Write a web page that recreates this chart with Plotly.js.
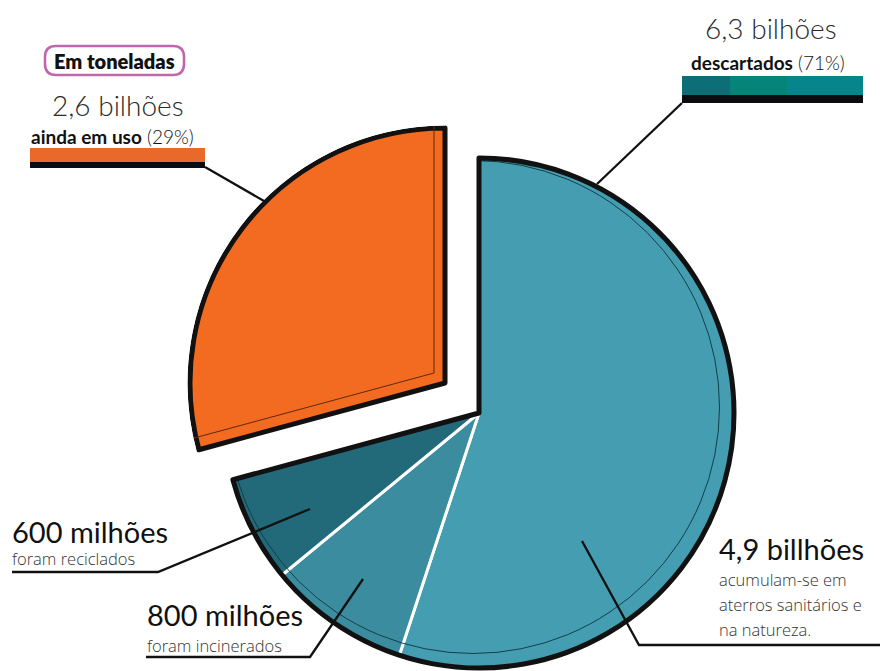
<!DOCTYPE html>
<html><head><meta charset="utf-8">
<script src="https://cdn.plot.ly/plotly-3.0.1.min.js"></script>
<style>html,body{margin:0;padding:0;background:#fff;overflow:hidden}#chart{width:880px;height:671px}</style>
</head><body><div id="chart"></div>
<script>
// ---- data (clockwise from 12 o'clock) ----
const categories = ['Acumulados', 'Incinerados', 'Reciclados', 'Ainda em uso'];
const valuesBillions = [4.9, 0.8, 0.6, 2.6];
const groupLabels = ['Descartados', 'Ainda em uso'];
const groupValues = [6.3, 2.6];
const valueLabels = ['2,6 bilhões', '600 milhões', '800 milhões', '4,9 billhões', '6,3 bilhões'];
const shareLabels = ['(29%)', '(71%)'];
const descLabels = ['ainda em uso', 'foram reciclados', 'foram incinerados', 'acumulam-se em', 'aterros sanitários e', 'na natureza.', 'descartados'];
const unitLabel = 'Em toneladas';

// ---- styling ----
const sliceColors = ['#459DB1', '#3B8C9E', '#22697A', '#F36B21'];
const discardBarColors = ['#0E6E78', '#05857A', '#07858D'];
const TR = 'rgba(0,0,0,0)';
const INK = '#111111';
const W = 880, H = 671;
const fx = x => x / W, fy = y => 1 - y / H;
const dom = (cx, cy, r) => ({x: [fx(cx - r), fx(cx + r)], y: [fy(cy + r), fy(cy - r)]});
const FONT = 'Lato, "Open Sans", sans-serif';
const SUBFONT = '"Open Sans", Lato, sans-serif';

const common = {type: 'pie', sort: false, direction: 'clockwise', rotation: 0,
  textinfo: 'none', hoverinfo: 'none', showlegend: false};

const T = {cx: 479, cy: 413, r: 255};
const O = {cx: 445, cy: 383, r: 255};

const traces = [
  // discarded slices with white separators
  Object.assign({}, common, {labels: categories, values: valuesBillions, domain: dom(T.cx, T.cy, T.r),
    marker: {colors: [sliceColors[0], sliceColors[1], sliceColors[2], TR], line: {color: '#ffffff', width: [3, 3, 3, 0]}}}),
  // rim line of the disc top
  Object.assign({}, common, {labels: [groupLabels[0]], values: [groupValues[0]], domain: dom(T.cx - 6, T.cy - 6, T.r - 8.5),
    marker: {colors: [TR], line: {color: '#123f4a', width: 1}}}),
  // clear the slot left by the pulled slice
  Object.assign({}, common, {labels: groupLabels, values: groupValues, domain: dom(T.cx, T.cy, T.r + 1),
    marker: {colors: [TR, '#ffffff'], line: {width: [0, 0]}}}),
  // thick outline of the discarded group
  Object.assign({}, common, {labels: groupLabels, values: groupValues, domain: dom(T.cx, T.cy, T.r),
    marker: {colors: [TR, TR], line: {color: INK, width: [5, 0]}}}),
  // pulled slice: still in use
  Object.assign({}, common, {labels: groupLabels, values: groupValues, domain: dom(O.cx, O.cy, O.r),
    marker: {colors: [TR, sliceColors[3]], line: {color: INK, width: [0, 5]}}}),
  // inner line of the pulled slice
  Object.assign({}, common, {labels: groupLabels, values: groupValues, domain: dom(O.cx - 11, O.cy - 10, O.r),
    marker: {colors: [TR, TR], line: {color: '#5e2a0c', width: [0, 1]}}}),
  // mask outside the pulled slice
  Object.assign({}, common, {labels: groupLabels, values: groupValues, domain: dom(O.cx, O.cy, 285), hole: 257.5 / 285,
    marker: {colors: [TR, '#ffffff'], line: {width: [0, 0]}}})
];

function P(pts) {
  return pts.map((p, i) => (i ? 'L' : 'M') + fx(p[0]) + ',' + fy(p[1])).join(' ');
}
function roundRect(x0, y0, x1, y1, r) {
  const q = (a, b) => fx(a) + ',' + fy(b);
  return 'M' + q(x0 + r, y0) + ' L' + q(x1 - r, y0) + ' Q' + q(x1, y0) + ' ' + q(x1, y0 + r) +
    ' L' + q(x1, y1 - r) + ' Q' + q(x1, y1) + ' ' + q(x1 - r, y1) +
    ' L' + q(x0 + r, y1) + ' Q' + q(x0, y1) + ' ' + q(x0, y1 - r) +
    ' L' + q(x0, y0 + r) + ' Q' + q(x0, y0) + ' ' + q(x0 + r, y0) + ' Z';
}
const rect = (x0, y0, x1, y1, color) => ({type: 'rect', xref: 'paper', yref: 'paper',
  x0: fx(x0), x1: fx(x1), y0: fy(y1), y1: fy(y0), fillcolor: color, line: {width: 0}, layer: 'above'});
const leader = pts => ({type: 'path', xref: 'paper', yref: 'paper', path: P(pts), line: {color: INK, width: 2.3}, layer: 'above'});

const shapes = [
  {type: 'path', xref: 'paper', yref: 'paper', path: roundRect(45, 46, 184, 75, 11), line: {color: '#C165AE', width: 2.5}, fillcolor: TR},
  rect(30, 148, 205, 162, '#E8692A'),
  rect(30, 162, 205, 168, '#0b0b10'),
  rect(682, 76, 730, 95, discardBarColors[0]),
  rect(730, 76, 787, 95, discardBarColors[1]),
  rect(787, 76, 863, 95, discardBarColors[2]),
  rect(682, 95, 863, 103, '#0b0b10'),
  leader([[205, 167], [264, 201]]),
  leader([[682, 103], [597, 184]]),
  leader([[12, 572], [158, 572], [310, 509]]),
  leader([[146, 657], [310, 657], [363, 579]]),
  leader([[582, 541], [639, 645], [880, 645]])
];

const ann = (text, x, y, size, weight, color, xanchor, family) => ({text: text, xref: 'paper', yref: 'paper',
  x: fx(x), y: fy(y), xanchor: xanchor || 'left', yanchor: 'middle', showarrow: false, borderpad: 0,
  font: {family: family || FONT, size: size, weight: weight, color: color}});

const annotations = [
  ann(unitLabel, 114.5, 61, 20, 800, INK, 'center'),
  ann(valueLabels[0], 118, 105, 28, 300, '#2a2a2a', 'center'),
  ann('<b>' + descLabels[0] + '</b> ' + shareLabels[0], 30, 137, 19, 300, INK),
  ann(valueLabels[4], 771, 28, 28, 300, '#2a2a2a', 'center'),
  ann('<b>' + descLabels[6] + '</b> ' + shareLabels[1], 768, 62, 19, 300, INK, 'center'),
  ann(valueLabels[1], 11, 531, 29, 400, INK),
  ann(descLabels[1], 11, 558, 16.5, 300, '#333333', 'left', SUBFONT),
  ann(valueLabels[2], 146, 614, 29, 400, INK),
  ann(descLabels[2], 146, 645, 16.5, 300, '#333333', 'left', SUBFONT),
  ann(valueLabels[3], 718, 548, 29, 400, INK),
  ann(descLabels[3], 718, 579, 16.5, 300, '#333333', 'left', SUBFONT),
  ann(descLabels[4], 718, 604, 16.5, 300, '#333333', 'left', SUBFONT),
  ann(descLabels[5], 718, 629, 16.5, 300, '#333333', 'left', SUBFONT)
];

const layout = {width: W, height: H, margin: {l: 0, r: 0, t: 0, b: 0}, paper_bgcolor: '#ffffff',
  plot_bgcolor: '#ffffff', showlegend: false, shapes: shapes, annotations: annotations, font: {family: FONT}};

Plotly.newPlot('chart', traces, layout, {staticPlot: true, displayModeBar: false});
</script></body></html>
